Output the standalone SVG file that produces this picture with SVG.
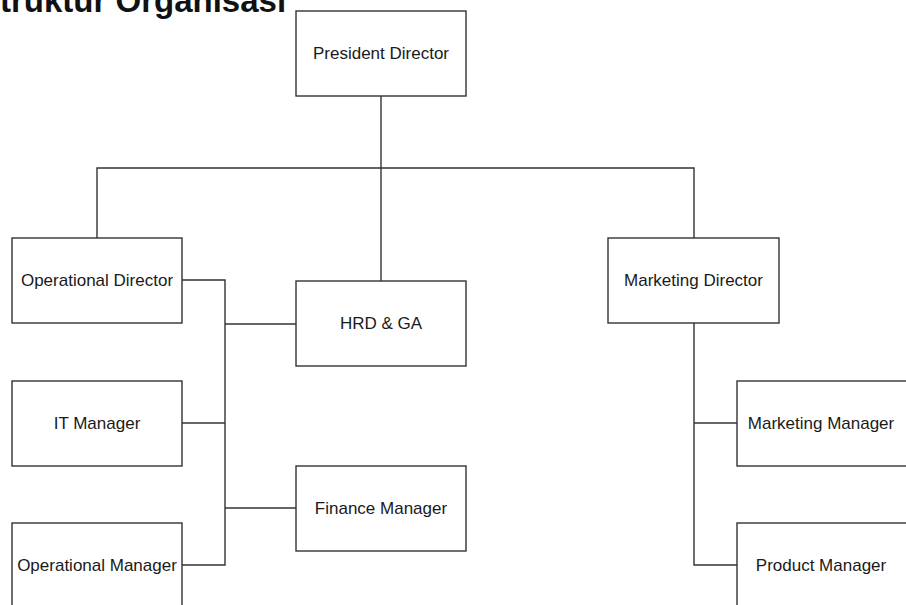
<svg xmlns="http://www.w3.org/2000/svg" width="906" height="605" viewBox="0 0 906 605">
<style>
.box{fill:#ffffff;stroke:#333333;stroke-width:1.4}
.lbl{font-family:"Liberation Sans",Arial,sans-serif;font-size:17px;fill:#1a1a1a;text-anchor:middle;dominant-baseline:central}
.con{fill:none;stroke:#333333;stroke-width:1.4}
.title{font-family:"Liberation Sans",Arial,sans-serif;font-size:33px;font-weight:bold;fill:#111111}
</style>
<rect x="0" y="0" width="906" height="605" fill="#ffffff"/>
<text class="title" x="-22" y="12">Struktur Organisasi</text>
<g id="connectors">
<path class="con" d="M381 96 V281"/>
<path class="con" d="M97 238 V168 H694 V238"/>
<path class="con" d="M182 280 H225 V565 H182"/>
<path class="con" d="M225 324 H296"/>
<path class="con" d="M182 423 H225"/>
<path class="con" d="M225 508 H296"/>
<path class="con" d="M694 323 V565 H737"/>
<path class="con" d="M694 423 H737"/>
</g>
<g id="president-director"><rect class="box" x="296" y="11" width="170" height="85"/><text class="lbl" x="381" y="53">President Director</text></g>
<g id="operational-director"><rect class="box" x="12" y="238" width="170" height="85"/><text class="lbl" x="97" y="280">Operational Director</text></g>
<g id="hrd-ga"><rect class="box" x="296" y="281" width="170" height="85"/><text class="lbl" x="381" y="323">HRD &amp; GA</text></g>
<g id="marketing-director"><rect class="box" x="608" y="238" width="171" height="85"/><text class="lbl" x="693.5" y="280">Marketing Director</text></g>
<g id="it-manager"><rect class="box" x="12" y="381" width="170" height="85"/><text class="lbl" x="97" y="423">IT Manager</text></g>
<g id="finance-manager"><rect class="box" x="296" y="466" width="170" height="85"/><text class="lbl" x="381" y="508">Finance Manager</text></g>
<g id="operational-manager"><rect class="box" x="12" y="523" width="170" height="85"/><text class="lbl" x="97" y="565">Operational Manager</text></g>
<g id="marketing-manager"><rect class="box" x="737" y="381" width="170" height="85"/><text class="lbl" x="821" y="423">Marketing Manager</text></g>
<g id="product-manager"><rect class="box" x="737" y="523" width="170" height="85"/><text class="lbl" x="821" y="565">Product Manager</text></g>
</svg>
